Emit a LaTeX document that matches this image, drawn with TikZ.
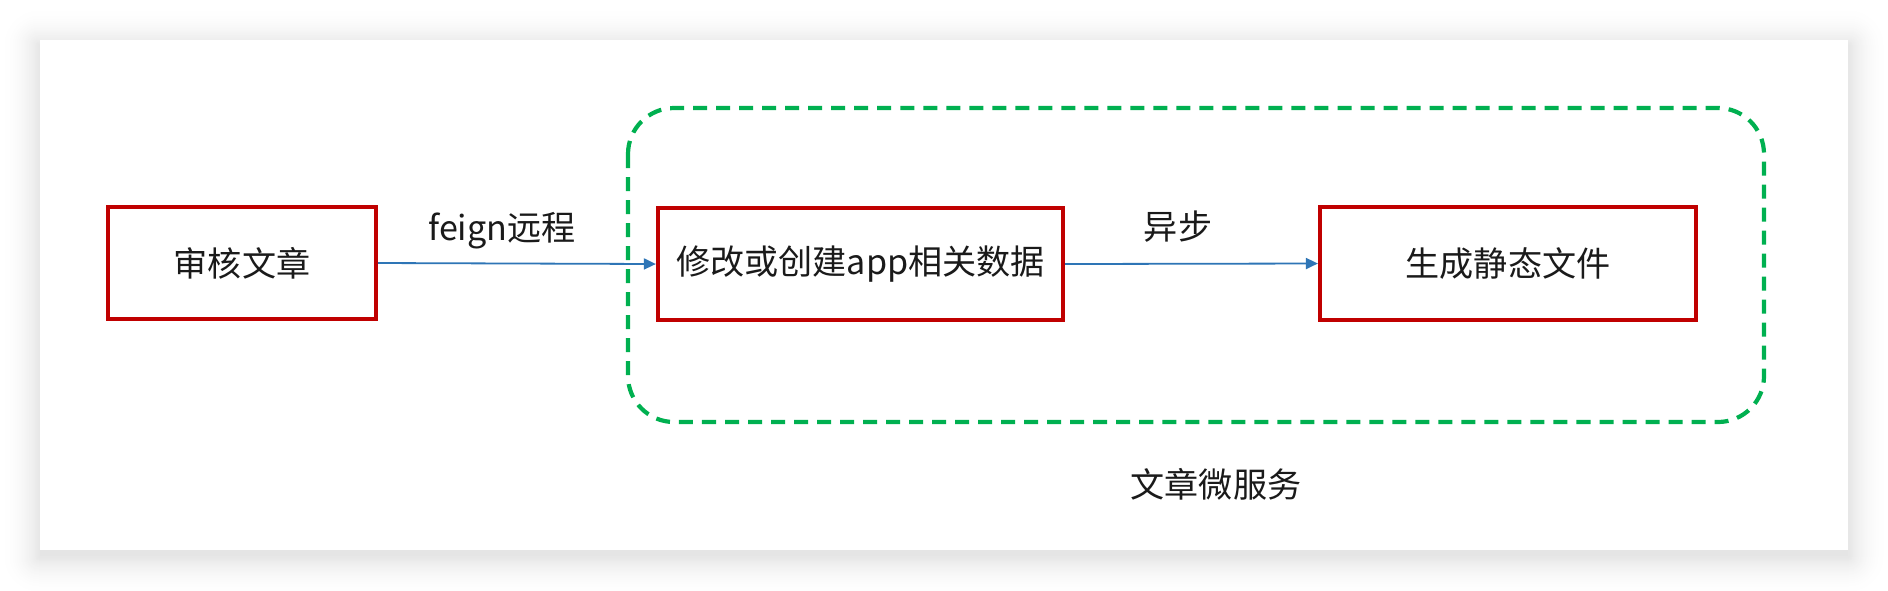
\documentclass[tikz,border=0pt]{standalone}
\usepackage{fontspec}
\setmainfont{Noto Sans CJK SC}
\usepackage{tikz}
\usetikzlibrary{positioning}
\usetikzlibrary{shapes,arrows.meta}

\definecolor{boxred}{HTML}{C00000}
\definecolor{svcgreen}{HTML}{00B050}
\definecolor{flowblue}{HTML}{2E75B6}
\definecolor{textgray}{HTML}{1A1A1A}

\begin{document}
\begin{tikzpicture}[x=0.01cm, y=-0.01cm,
		stepbox/.style={draw=boxred, line width=0.04cm, fill=white, text=textgray,
			minimum height=1.12cm, font=\fontsize{9.7pt}{12pt}\selectfont},
		flow/.style={draw=flowblue, line width=0.018cm, -{Triangle[length=0.12cm,width=0.11cm]}},
		tag/.style={text=textgray, font=\fontsize{9.7pt}{12pt}\selectfont}]
		\useasboundingbox (0,0) rectangle (1888,590);

		% Card and its shadow
		\fill[white] (0,0) rectangle (1888,590);
		\foreach \i [evaluate=\i as \p using 10*((40-\i)/40)^2] in {40,39,...,0}
			\fill[black!\p, rounded corners=\i*0.01cm] (40-\i,46-\i) rectangle (1848+\i,556+\i);
		\fill[white] (40,40) rectangle (1848,550);

		% Micro service frame
		\draw[svcgreen, line width=0.042cm, dash pattern=on 0.14cm off 0.09cm, rounded corners=0.46cm]
			(628,108) rectangle (1764,422);
		\node[tag] (svc) at (1216,484) {文章微服务};

		% Steps
		\node[stepbox, minimum width=2.68cm] (audit) at (242,263) {审核文章};
		\node[stepbox, minimum width=4.05cm] (update) at (860.5,264) {修改或创建app相关数据};
		\node[stepbox, minimum width=3.76cm] (static) at (1508,263.5) {生成静态文件};

		% Calls
		\draw[flow] (audit.east) -- (update.west);
		\node[tag] (remote) at (502,231) {feign远程};
		\draw[flow] (update.east) -- (static.west);
		\node[tag] (async) at (1178,227) {异步};
	\end{tikzpicture}
\end{document}
